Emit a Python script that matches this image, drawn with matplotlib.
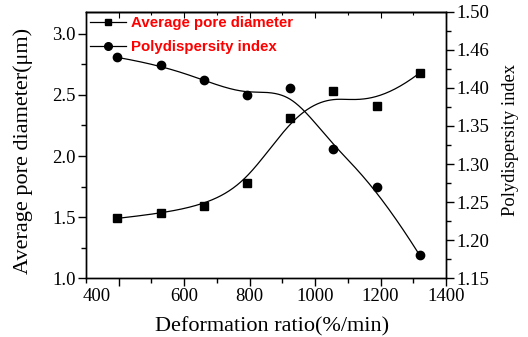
import numpy as np
import matplotlib
matplotlib.use("Agg")
import matplotlib.pyplot as plt
from matplotlib.ticker import FixedLocator, MultipleLocator
from matplotlib.transforms import ScaledTranslation

# Deformation ratio (%/min)
deformation = [396, 528, 660, 792, 924, 1056, 1188, 1320]
# Average pore diameter (um)
pore_diameter = [1.49, 1.53, 1.59, 1.78, 2.31, 2.53, 2.41, 2.68]
# Polydispersity index
pdi = [1.44, 1.43, 1.41, 1.39, 1.40, 1.32, 1.27, 1.18]

x_ticks = [400, 600, 800, 1000, 1200, 1400]
left_ticks = [1.0, 1.5, 2.0, 2.5, 3.0]
right_ticks = [1.15, 1.20, 1.25, 1.30, 1.35, 1.40, 1.45, 1.50]
right_tick_labels = ["1.15", "1.20", "1.25", "1.30", "1.35", "1.40", "1.46", "1.50"]


def bspline(cx, cy, degree=3, n=400):
    """Clamped uniform B-spline using the points as control polygon."""
    cx = np.asarray(cx, float)
    cy = np.asarray(cy, float)
    m = len(cx)
    knots = np.concatenate([np.zeros(degree), np.arange(m - degree + 1),
                            np.full(degree, m - degree)]).astype(float)
    t = np.linspace(0, m - degree, n)
    nb = len(knots) - 1
    N = np.zeros((n, nb))
    for i in range(nb):
        N[:, i] = (t >= knots[i]) & (t < knots[i + 1])
    last = max(i for i in range(nb) if knots[i] < knots[i + 1])
    N[t == knots[-1], last] = 1.0
    for d in range(1, degree + 1):
        Nn = np.zeros((n, nb - d))
        for i in range(nb - d):
            a = knots[i + d] - knots[i]
            b = knots[i + d + 1] - knots[i + 1]
            term = np.zeros(n)
            if a > 0:
                term += (t - knots[i]) / a * N[:, i]
            if b > 0:
                term += (knots[i + d + 1] - t) / b * N[:, i + 1]
            Nn[:, i] = term
        N = Nn
    return N @ cx, N @ cy


plt.rcParams['font.family'] = ['Liberation Serif', 'DejaVu Serif']
plt.rcParams['axes.linewidth'] = 1.0

fig = plt.figure(figsize=(5.28, 3.37), dpi=100)
ax = fig.add_axes([0.1629, 0.1742, 0.6818, 0.7911])
ax2 = ax.twinx()

# Pore diameter: markers plus smoothed curve
sx, sy = bspline(deformation, pore_diameter)
ax.plot(sx, sy, color='black', lw=0.9)
ax.plot(deformation, pore_diameter, ls='none', marker='s', ms=5.5, color='black')

# Polydispersity index on the right axis
px, py = bspline(deformation, pdi)
ax2.plot(px, py, color='black', lw=0.9)
ax2.plot(deformation, pdi, ls='none', marker='o', ms=6, color='black')

ax.set_xlim(300, 1400)
ax.set_ylim(1.0, 3.18)
ax2.set_ylim(1.15, 1.50)

ax.xaxis.set_major_locator(FixedLocator(x_ticks))
ax.xaxis.set_minor_locator(MultipleLocator(100))
ax.set_yticks(left_ticks)
ax.set_yticklabels([f"{v:.1f}" for v in left_ticks])
ax.yaxis.set_minor_locator(MultipleLocator(0.25))
ax2.set_yticks(right_ticks)
ax2.set_yticklabels(right_tick_labels)
ax2.yaxis.set_minor_locator(MultipleLocator(0.025))

for a in (ax, ax2):
    a.tick_params(which='major', direction='out', length=6, width=1,
                  labelsize=13.5, pad=1.2, colors='black')
    a.tick_params(which='minor', direction='out', length=3.5, width=1)

# inward ticks along the top edge
top = ax.secondary_xaxis('top')
top.xaxis.set_major_locator(FixedLocator(x_ticks))
top.xaxis.set_minor_locator(MultipleLocator(100))
top.tick_params(which='major', direction='in', length=4, width=0.8, labeltop=False)
top.tick_params(which='minor', direction='in', length=2.5, width=0.8)

ax.set_xticklabels([str(v) for v in x_ticks])
first = ax.xaxis.get_major_ticks()[0].label1
first.set_transform(first.get_transform() + ScaledTranslation(-0.22, 0, fig.dpi_scale_trans))

ax.set_xlabel("Deformation ratio(%/min)", fontsize=16)
ax.set_ylabel("Average pore diameter(\u03bcm)", fontsize=16)
ax2.set_ylabel("Polydispersity index", fontsize=13.3)
ax.xaxis.label.set_va('center')
ax.yaxis.label.set_va('center')
ax2.yaxis.label.set_va('center')
ax.xaxis.set_label_coords(0.517, -0.183)
ax.yaxis.set_label_coords(-0.175, 0.477)
ax2.yaxis.set_label_coords(1.18, 0.519)

h1 = plt.Line2D([], [], color='black', lw=0.9, marker='s', ms=4.5)
h2 = plt.Line2D([], [], color='black', lw=0.9, marker='o', ms=5.5)
ax2.legend([h1, h2], ["Average pore diameter", "Polydispersity index"],
           loc='upper left', bbox_to_anchor=(0.011, 0.982), frameon=False,
           borderpad=0, borderaxespad=0, handlelength=2.4, handletextpad=0.35,
           labelspacing=0.62, labelcolor='red',
           prop={'family': 'Liberation Sans', 'weight': 'bold', 'size': 10.8})

fig.savefig("out.png", dpi=100)
